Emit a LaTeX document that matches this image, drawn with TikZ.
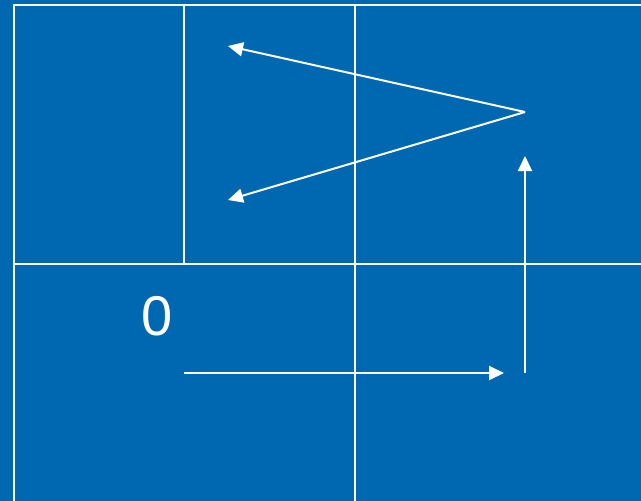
\documentclass[tikz,border=0pt]{standalone}
\usepackage{fontspec}
\setmainfont{Liberation Sans}
\usetikzlibrary{arrows.meta}
\definecolor{bgblue}{RGB}{0,103,177}
\tikzset{
  gridline/.style={draw=white, line width=2pt},
  arrowline/.style={draw=white, line width=2pt, -{Triangle[length=15pt,width=14pt]}},
  label0/.style={text=white, font=\fontsize{56}{60}\selectfont, inner sep=0pt}
}
\begin{document}
\begin{tikzpicture}[x=1pt,y=-1pt]
\fill[bgblue] (0,0) rectangle (641,501);
\useasboundingbox (0,0) rectangle (641,501);
% grid
\draw[gridline] (641,5) -- (14,5) -- (14,501);
\draw[gridline] (184,5) -- (184,264);
\draw[gridline] (355,5) -- (355,501);
\draw[gridline] (14,264) -- (641,264);
% coordinates
\coordinate (apex) at (525,112);
\coordinate (tipA) at (228,46);
\coordinate (tipB) at (228,200);
\coordinate (vstart) at (525,373);
\coordinate (vend) at (525,156);
\coordinate (hstart) at (184,373);
\coordinate (hend) at (504,373);
\node[label0] (zero) at (157,316) {0};
% arrows
\draw[arrowline] (apex) -- (tipA);
\draw[arrowline] (apex) -- (tipB);
\draw[arrowline] (vstart) -- (vend);
\draw[arrowline] (hstart) -- (hend);
\end{tikzpicture}
\end{document}
